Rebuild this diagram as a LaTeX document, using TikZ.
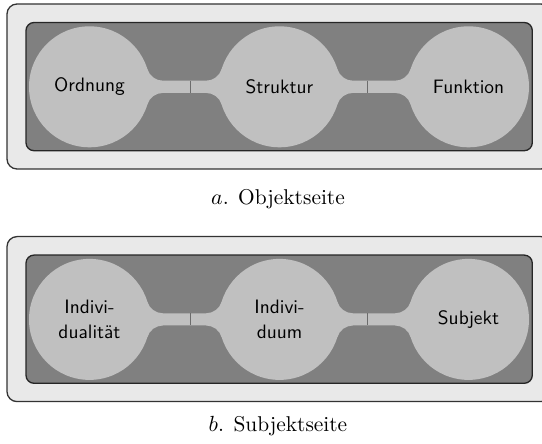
\documentclass[tikz,border=0pt]{standalone}
\usetikzlibrary{calc}

\definecolor{panelbg}{RGB}{233,233,233}
\definecolor{trayfill}{RGB}{128,128,128}
\definecolor{bubblefill}{RGB}{192,192,192}
\definecolor{jointline}{RGB}{108,108,108}

\pgfdeclarelayer{back}
\pgfdeclarelayer{mid}
\pgfsetlayers{back,mid,main}

\tikzset{
  panel/.style={draw=black!80, fill=panelbg, line width=0.65pt, rounded corners=5pt},
  tray/.style={draw=black!85, fill=trayfill, line width=0.65pt, rounded corners=4pt},
  bubble/.style={circle, fill=bubblefill, minimum size=60.5pt, inner sep=0pt,
    align=center, font=\fontsize{9.7}{12.5}\selectfont\sffamily},
  neck/.style={fill=bubblefill},
  joint/.style={draw=jointline, line width=0.45pt},
  caption/.style={anchor=base, font=\fontsize{10.7}{13}\selectfont},
}

% Neck between two bubbles, with concave fillets where it meets each bubble
\newcommand\bridge[2]{%
  \begin{pgfonlayer}{mid}
  \fill[neck] (#1.center) -- ($(#1.center)+(57.86,17.67)$)
    arc[start angle=197, end angle=270, radius=8.175pt]
    -- ($(#2.center)+(-73.5,6.1)$)
    arc[start angle=-90, end angle=-17, radius=8.175pt]
    -- (#2.center) -- ($(#2.center)+(-57.86,-17.67)$)
    arc[start angle=17, end angle=90, radius=8.175pt]
    -- ($(#1.center)+(73.5,-6.1)$)
    arc[start angle=90, end angle=163, radius=8.175pt]
    -- cycle;
  \end{pgfonlayer}%
}

\begin{document}
\begin{tikzpicture}[x=0.5pt, y=0.5pt]
  \useasboundingbox (0,0) rectangle (542,-444);
  \clip (0,0) rectangle (542,-444);

  % ---- upper panel: Objektseite ----
  \begin{pgfonlayer}{back}
    \path[panel] (7,-4) rectangle (551,-169);
    \path[tray] (26,-22.5) rectangle (532.3,-150.7);
  \end{pgfonlayer}
  \node[bubble] (ord) at (89.5,-86.8) {Ordnung};
  \node[bubble] (str) at (279.5,-86.8) {Struktur};
  \node[bubble] (fun) at (468.5,-86.8) {Funktion};
  \bridge{ord}{str}
  \bridge{str}{fun}
  \coordinate (ja) at ($(ord.center)+(100.8,0)$);
  \coordinate (jb) at ($(fun.center)+(-101.2,0)$);
  \draw[joint] ($(ja)+(0,6.1)$) -- ($(ja)+(0,-6.1)$);
  \draw[joint] ($(jb)+(0,6.1)$) -- ($(jb)+(0,-6.1)$);
  \node[caption] (capa) at (278,-205) {$a$. Objektseite};

  % ---- lower panel: Subjektseite ----
  \begin{pgfonlayer}{back}
    \path[panel] (7,-236.6) rectangle (551,-401.6);
    \path[tray] (26,-255.1) rectangle (532.3,-383.3);
  \end{pgfonlayer}
  \node[bubble] (ity) at (89.5,-319.4) {Indivi-\\dualität};
  \node[bubble] (ind) at (279.5,-319.4) {Indivi-\\duum};
  \node[bubble] (sub) at (468.5,-319.4) {Subjekt};
  \bridge{ity}{ind}
  \bridge{ind}{sub}
  \coordinate (jc) at ($(ity.center)+(100.8,0)$);
  \coordinate (jd) at ($(sub.center)+(-101.2,0)$);
  \draw[joint] ($(jc)+(0,6.1)$) -- ($(jc)+(0,-6.1)$);
  \draw[joint] ($(jd)+(0,6.1)$) -- ($(jd)+(0,-6.1)$);
  \node[caption] (capb) at (278,-431) {$b$. Subjektseite};
\end{tikzpicture}
\end{document}
